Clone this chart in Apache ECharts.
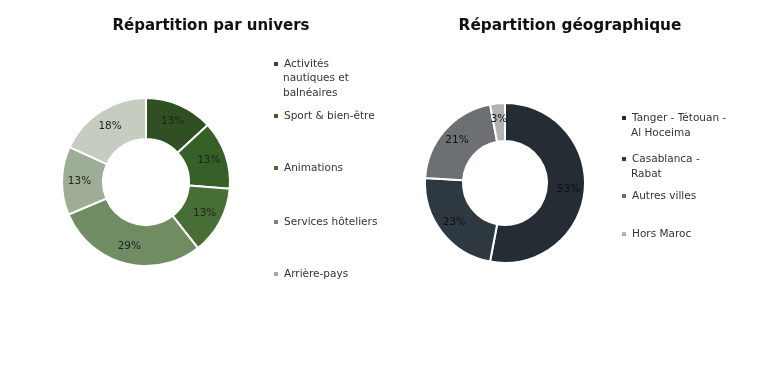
<!DOCTYPE html>
<html><head><meta charset="utf-8">
<script src="https://cdn.jsdelivr.net/npm/echarts@6/dist/echarts.min.js"></script>
<style>html,body{margin:0;padding:0;background:#fff}#c{width:763px;height:366px}</style>
</head><body><div id="c"></div>
<script>
const universNames = ['Activités nautiques et balnéaires','Sport & bien-être','Animations','Services hôteliers','Arrière-pays','Autres'];
const universValues = [13,13,13,29,13,18];
const universColors = ['#2f5022','#375f28','#476f35','#6f8c63','#9eae96','#c4cdc0'];
const geoNames = ['Tanger - Tétouan - Al Hoceima','Casablanca - Rabat','Autres villes','Hors Maroc'];
const geoValues = [53,23,21,3];
const geoColors = ['#262c33','#2e3840','#6d7073','#b3b3b3'];

const FONT = 'DejaVu Sans';
const LH = 15;
const chart = echarts.init(document.getElementById('c'));

function lg(name, left, centerY, firstLine) {
  return {
    data: [name], left: left, top: centerY - LH / 2, padding: 0,
    icon: 'rect', itemWidth: 6, itemHeight: 6, itemGap: 0,
    selectedMode: false,
    formatter: () => firstLine,
    textStyle: { fontFamily: FONT, fontSize: 10.5, color: '#333', lineHeight: LH }
  };
}
function cont(text, left, centerY) {
  return { text: text, left: left, top: centerY - LH / 2, padding: 0,
    textStyle: { fontFamily: FONT, fontSize: 10.5, fontWeight: 'normal', color: '#333', lineHeight: LH } };
}

const legends = [
  lg(universNames[0], 272, 64, 'Activités'),
  lg(universNames[1], 272, 116, 'Sport & bien-être'),
  lg(universNames[2], 272, 168, 'Animations'),
  lg(universNames[3], 272, 222, 'Services hôteliers'),
  lg(universNames[4], 272, 274, 'Arrière-pays'),
  lg(geoNames[0], 620, 118, 'Tanger - Tétouan -'),
  lg(geoNames[1], 620, 159, 'Casablanca -'),
  lg(geoNames[2], 620, 196, 'Autres villes'),
  lg(geoNames[3], 620, 234, 'Hors Maroc')
];

function pieData(names, values, colors) {
  return names.map((n, i) => ({ name: n, value: values[i], itemStyle: { color: colors[i] } }));
}

chart.setOption({
  animation: false,
  title: [
    { text: 'Répartition par univers', left: 206, top: 14, textAlign: 'center',
      textStyle: { fontFamily: FONT, fontSize: 15, fontWeight: 'bold', color: '#111' } },
    { text: 'Répartition géographique', left: 565, top: 14, textAlign: 'center',
      textStyle: { fontFamily: FONT, fontSize: 15.3, fontWeight: 'bold', color: '#111' } },
    cont('nautiques et\nbalnéaires', 283, 78),
    cont('Al Hoceima', 631, 133),
    cont('Rabat', 631, 174)
  ],
  legend: legends,
  series: [
    { type: 'pie', center: [146, 182], radius: [43, 84], startAngle: 90, clockwise: true,
      itemStyle: { borderColor: '#fff', borderWidth: 2 },
      label: { position: 'inside', formatter: '{c}%', fontFamily: FONT, fontSize: 10.5, color: '#222' },
      labelLine: { show: false },
      data: pieData(universNames, universValues, universColors) },
    { type: 'pie', center: [505, 183], radius: [42, 80], startAngle: 90, clockwise: true,
      itemStyle: { borderColor: '#fff', borderWidth: 2 },
      label: { position: 'inside', formatter: '{c}%', fontFamily: FONT, fontSize: 10.5, color: '#111' },
      labelLine: { show: false },
      data: pieData(geoNames, geoValues, geoColors) }
  ]
});
</script></body></html>
